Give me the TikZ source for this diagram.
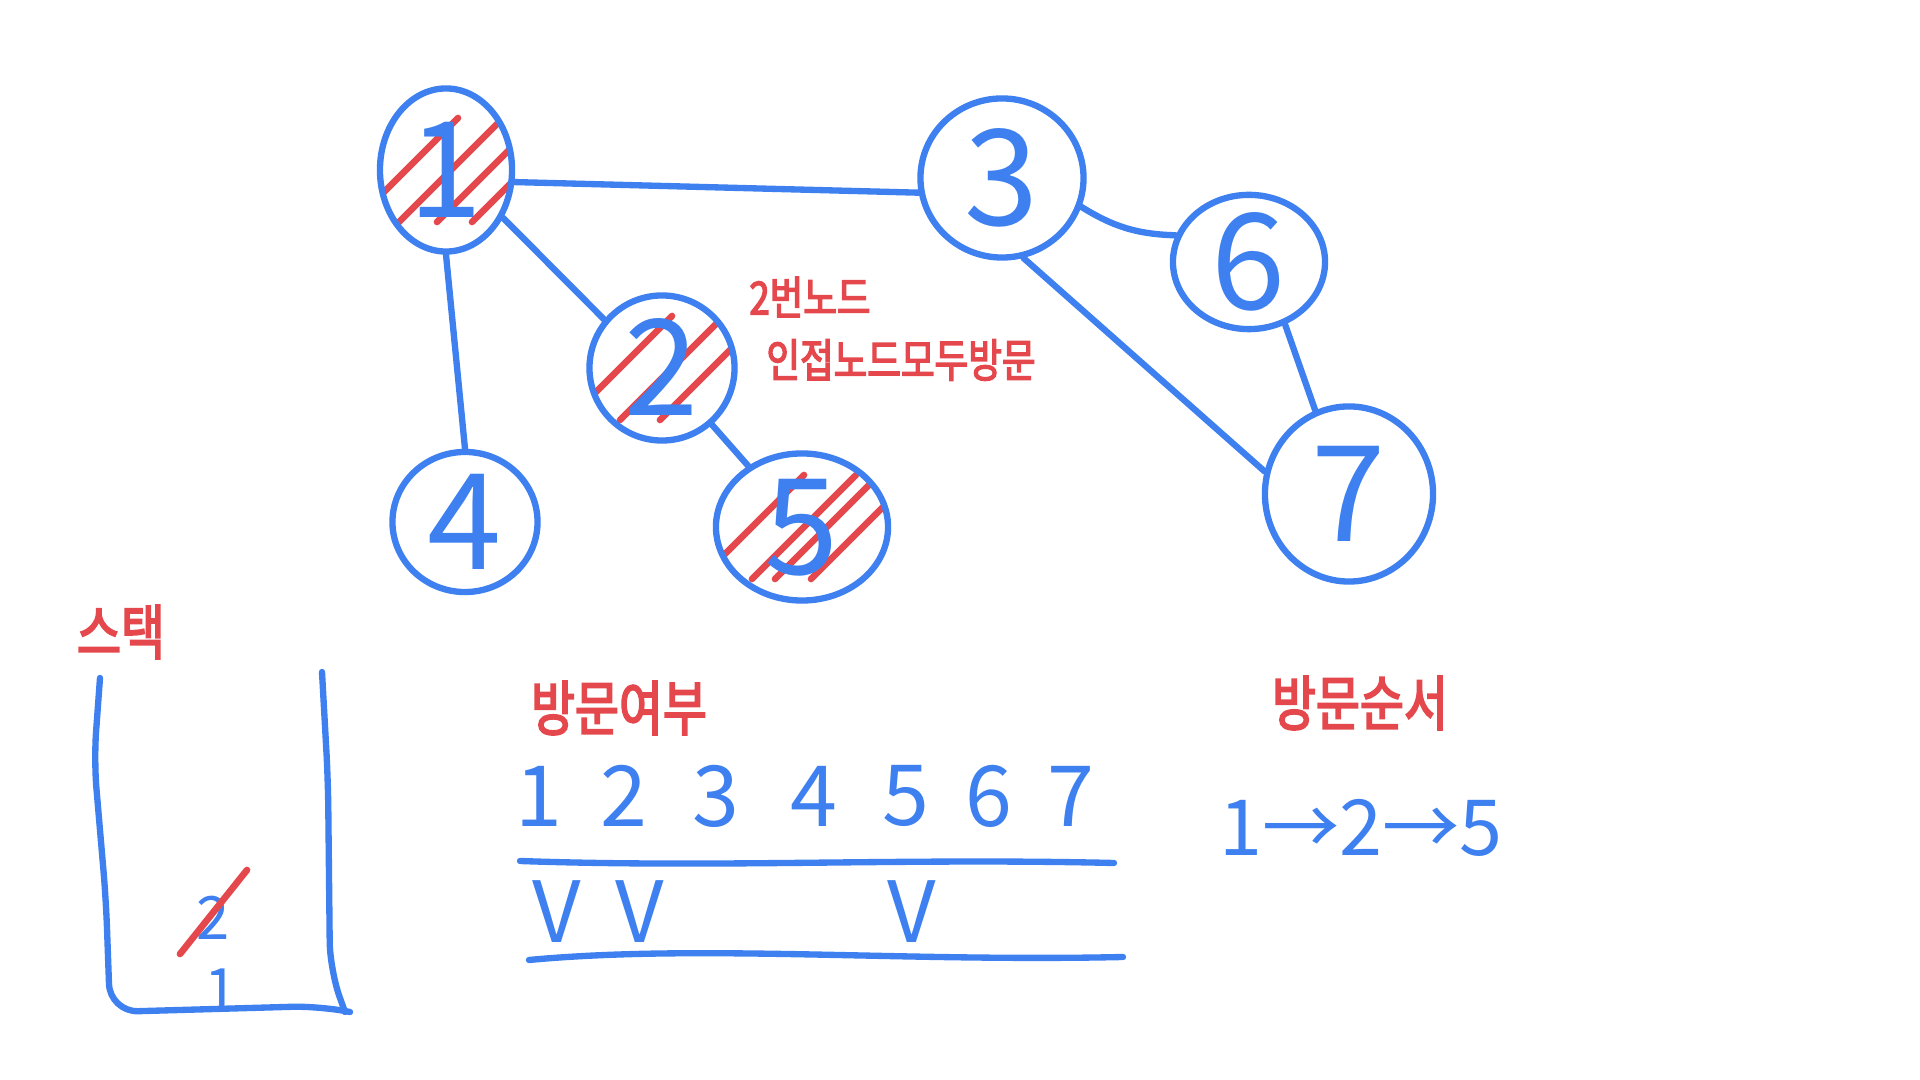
\documentclass[tikz,border=0pt]{standalone}
\usepackage{fontspec}
\setmainfont{Noto Sans CJK KR}
\newfontfamily\krhand[FakeStretch=0.8,FakeBold=3]{Noto Sans CJK KR}
\usetikzlibrary{arrows.meta,positioning,calc,shapes.geometric}
\definecolor{penBlue}{HTML}{3E80F0}
\definecolor{penRed}{HTML}{E4484D}
\tikzset{
    pen/.style={draw=penBlue, line width=1.8pt, line cap=round, line join=round},
    hatch/.style={draw=penRed, line width=1.9pt, line cap=round},
    gnode/.style={ellipse, pen, text=penBlue, inner sep=0pt, text height=27pt, text depth=0pt, font=\fontsize{38}{40}\selectfont},
    visited/.style={path picture={\foreach \s in {#1}{\draw[hatch] ($(path picture bounding box.center)+(\s-52,52)$) -- ($(path picture bounding box.center)+(\s+52,-52)$);}}},
    edge/.style={pen},
    note/.style={text=penRed, font=\krhand\fontsize{13}{15}\selectfont, inner sep=0pt},
    title/.style={text=penRed, font=\krhand\fontsize{17}{19}\selectfont, inner sep=0pt},
    tally/.style={text=penBlue, font=\fontsize{24}{26}\selectfont, inner sep=0pt},
    stackitem/.style={text=penBlue, font=\fontsize{17}{19}\selectfont, inner sep=0pt}
}
\begin{document}
\begin{tikzpicture}[x=0.01cm,y=-0.01cm]
\useasboundingbox (0,0) rectangle (1920,1080);
% graph
\node[gnode, visited={-40,5,43,78}, minimum width=1.32cm, minimum height=1.63cm] (n1) at (446,170) {1};
\node[gnode, visited={-42,10,50}, minimum width=1.45cm, minimum height=1.45cm] (n2) at (662,368) {2};
\node[gnode, minimum width=1.63cm, minimum height=1.59cm] (n3) at (1002,178) {3};
\node[gnode, minimum width=1.45cm, minimum height=1.40cm] (n4) at (465,522) {4};
\node[gnode, visited={-50,2,25,61}, minimum width=1.72cm, minimum height=1.47cm] (n5) at (802,527) {5};
\node[gnode, minimum width=1.52cm, minimum height=1.32cm] (n6) at (1249,262) {6};
\node[gnode, minimum width=1.68cm, minimum height=1.75cm] (n7) at (1349,494) {7};
\draw[edge] (n1.-10) -- (n3.190);
\draw[edge] (n1.-40) -- (n2.140);
\draw[edge] (n1.south) -- (n4.north);
\draw[edge] (n2) -- (n5);
\draw[edge] (n3.-20) to[bend right=15] (n6.160);
\draw[edge] (n3.-75) -- (n7.165);
\draw[edge] (n6.-60) -- (n7.112);
\node[note] (note2) at (810,297) {2번노드};
\node[note] (noteAdj) at (901,360) {인접노드모두방문};
% stack
\node[title] (stackTitle) at (121,632) {스택};
\draw[pen, rounded corners=8pt] (100,678) -- (94,760) -- (106,900) -- (110,1012) -- (320,1006) -- (350,1012);
\draw[pen, rounded corners=8pt] (322,672) -- (328,780) -- (330,970) -- (345,1012);
\node[stackitem] (stk2) at (213,918) {2};
\node[stackitem, anchor=south] (stk1) at (221,1012) {1};
\draw[hatch] ($(stk2)+(-33,36)$) -- ($(stk2)+(34,-48)$);
% visited table
\node[title] (visitTitle) at (619,708) {방문여부};
\foreach \x [count=\i] in {539,624,716,814,906,989,1071}
    \node[tally] (num\i) at (\x,796) {\i};
\draw[pen] (520,861) .. controls (720,868) and (900,858) .. (1114,863);
\node[tally] (chk1) at (557,912) {V};
\node[tally] (chk2) at (640,912) {V};
\node[tally] (chk5) at (912,912) {V};
\draw[pen] (529,960) .. controls (700,944) and (900,962) .. (1123,957);
% visit order
\node[title] (orderTitle) at (1360,703) {방문순서};
\node[tally, font=\fontsize{22}{24}\selectfont] (orderSeq) at (1361,828) {1→2→5};
\end{tikzpicture}
\end{document}
